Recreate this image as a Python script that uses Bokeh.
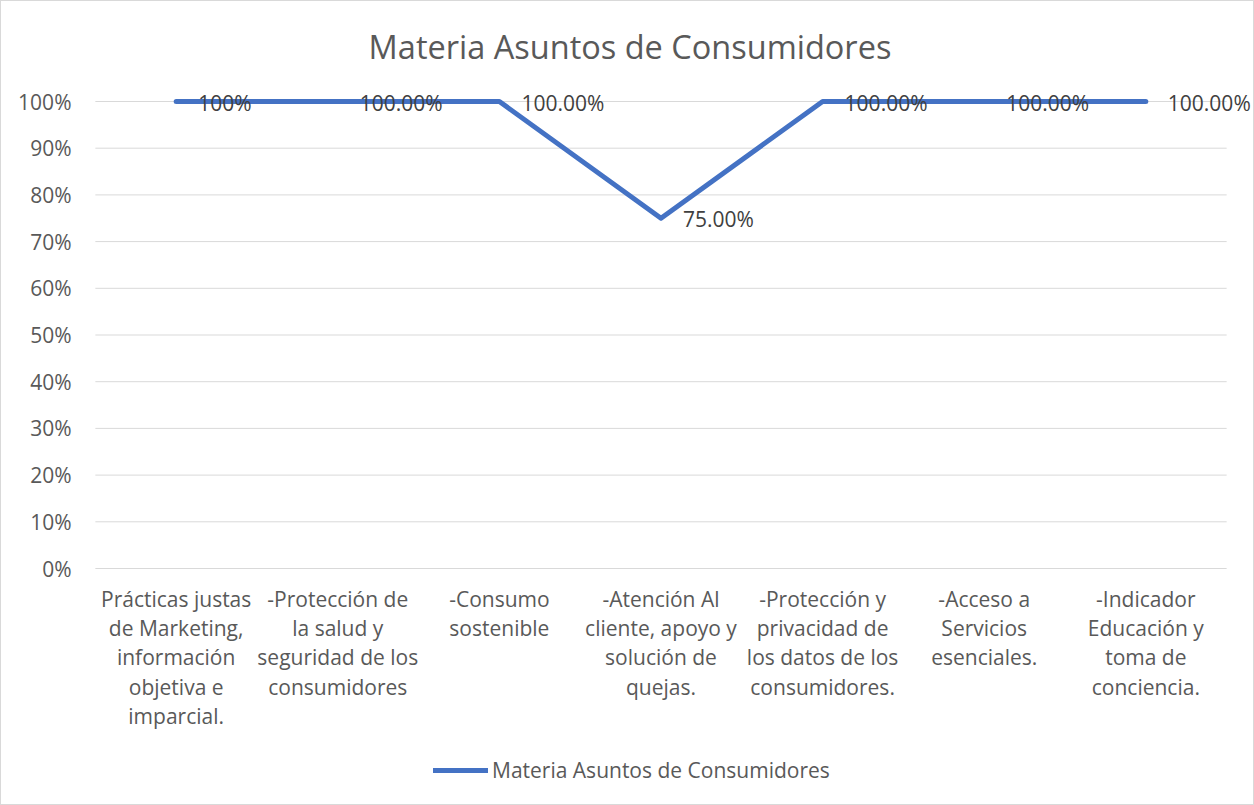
from bokeh.plotting import figure
from bokeh.models import (ColumnDataSource, FactorRange, Range1d, LabelSet, Label,
                          Legend, LegendItem, NumeralTickFormatter, FixedTicker)
from bokeh.core.properties import value
from bokeh.embed import file_html
from bokeh.resources import INLINE

title_text = "Materia Asuntos de Consumidores"
series_name = "Materia Asuntos de Consumidores"
categories = [
    "Prácticas justas\nde Marketing,\ninformación\nobjetiva e\nimparcial.",
    "-Protección de\nla salud y\nseguridad de los\nconsumidores",
    "-Consumo\nsostenible",
    "-Atención Al\ncliente, apoyo y\nsolución de\nquejas.",
    "-Protección y\nprivacidad de\nlos datos de los\nconsumidores.",
    "-Acceso a\nServicios\nesenciales.",
    "-Indicador\nEducación y\ntoma de\nconciencia.",
]
values = [1.0, 1.0, 1.0, 0.75, 1.0, 1.0, 1.0]
data_labels = ["100%", "100.00%", "100.00%", "75.00%", "100.00%", "100.00%", "100.00%"]
y_ticks = [0, 0.1, 0.2, 0.3, 0.4, 0.5, 0.6, 0.7, 0.8, 0.9, 1.0]

FONT = "Open Sans"
TXT = "#595959"
BLUE = "#4472C4"
GRID = "#D9D9D9"

W, H = 1252, 803
PAD = 0.16            # extra room left/right of the category band (category units)
PX_PER_UNIT = 467.0   # vertical pixels for 0% -> 100%
ZERO_PX = 567.0       # pixel row of the 0% line from the top of the figure
Y_TOP = ZERO_PX / PX_PER_UNIT
Y_BOTTOM = -(H - ZERO_PX) / PX_PER_UNIT

src = ColumnDataSource(dict(x=categories, y=values, lab=data_labels,
                            base=[0.0] * len(categories)))
grid_src = ColumnDataSource(dict(x0=[0.0] * len(y_ticks),
                                 x1=[float(len(categories))] * len(y_ticks),
                                 y=y_ticks))

p = figure(x_range=FactorRange(*categories, range_padding=PAD,
                               range_padding_units="absolute"),
           y_range=Range1d(Y_BOTTOM, Y_TOP),
           width=W, height=H,
           frame_width=1183, frame_height=H,
           min_border_left=68, min_border_right=W - 68 - 1183,
           min_border_top=0, min_border_bottom=0,
           output_backend="svg", toolbar_location=None,
           background_fill_color="white", border_fill_color="white")
p.styles = {"border": "1px solid #D9D9D9"}
p.outline_line_color = None

# horizontal gridlines limited to the category band
p.segment(x0="x0", x1="x1", y0="y", y1="y", source=grid_src,
          line_color=GRID, line_width=1)

r = p.line(x="x", y="y", source=src, line_color=BLUE, line_width=5,
           line_join="round", line_cap="round")

# category labels under the 0% line
p.text(x="x", y="base", text="x", source=src, y_offset=16,
       text_font=value(FONT), text_font_size="21px", text_color=TXT,
       text_align="center", text_baseline="top", text_line_height=1.05)

# title
p.add_layout(Label(x=len(categories) / 2, y=(ZERO_PX - 45) / PX_PER_UNIT,
                   x_offset=-31, text=title_text, text_font=FONT,
                   text_font_size="32.5px", text_color=TXT,
                   text_align="center", text_baseline="middle"))

# y axis
p.yaxis.ticker = FixedTicker(ticks=y_ticks)
p.yaxis.formatter = NumeralTickFormatter(format="0%")
p.yaxis.axis_line_color = None
p.yaxis.major_tick_line_color = None
p.yaxis.minor_tick_line_color = None
p.yaxis.major_label_text_font = FONT
p.yaxis.major_label_text_font_size = "21px"
p.yaxis.major_label_text_color = TXT
p.yaxis.major_label_standoff = -8

p.xaxis.visible = False
p.xgrid.grid_line_color = None
p.ygrid.grid_line_color = None

labels = LabelSet(x="x", y="y", text="lab", source=src, x_offset=22, y_offset=-1,
                  text_font=value(FONT), text_font_size="21px", text_color="#404040",
                  text_baseline="middle", text_align="left")
p.add_layout(labels)

legend = Legend(items=[LegendItem(label=series_name, renderers=[r])],
                location=(364, 20), orientation="horizontal",
                label_text_font=FONT, label_text_font_size="21px",
                label_text_color=TXT, glyph_width=55, label_standoff=4,
                border_line_color=None, background_fill_alpha=0, margin=0, padding=4)
p.add_layout(legend)

open("out.html", "w").write(file_html(p, INLINE))
